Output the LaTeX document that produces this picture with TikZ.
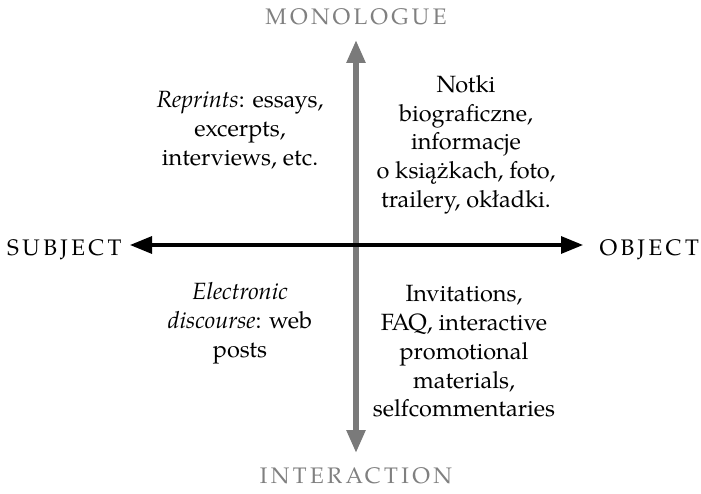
\documentclass[tikz,border=0pt]{standalone}
\usepackage{fontspec}
\setmainfont{TeX Gyre Pagella}
\usetikzlibrary{arrows.meta}
\definecolor{axgray}{HTML}{7A7A7A}
\definecolor{labgray}{HTML}{808080}
\begin{document}
\begin{tikzpicture}[x=1pt,y=1pt,
  quad/.style={align=center,font=\fontsize{23.5}{28.7}\selectfont,inner sep=0pt},
  axlab/.style={font=\fontsize{22.5}{27}\selectfont\addfontfeatures{LetterSpace=15},inner sep=0pt},
  grayaxis/.style={line width=5.5pt,draw=axgray,-{Triangle[length=23pt,width=18pt]}},
  blackaxis/.style={line width=3.2pt,draw=black,-{Triangle[length=22pt,width=17pt]}}]
\useasboundingbox (0,0) rectangle (701,493);
% axis end points
\coordinate (c) at (356,248);
\coordinate (top) at (356,453);
\coordinate (bot) at (356,40);
\coordinate (left) at (130,248);
\coordinate (right) at (583,248);
\draw[grayaxis] (c) -- (top);
\draw[grayaxis] (c) -- (bot);
\draw[blackaxis] (c) -- (left);
\draw[blackaxis] (c) -- (right);
% axis labels
\node[axlab,text=labgray,anchor=base] (mono) at (356,468) {MONOLOGUE};
\node[axlab,text=labgray,anchor=base] (inter) at (356,10) {INTERACTION};
\node[axlab,anchor=base west] (subj) at (7,237) {SUBJECT};
\node[axlab,anchor=base east] (obj) at (699,237) {OBJECT};
% quadrant texts
\node[quad] (tl) at (240,363) {\textit{Reprints}: essays,\\excerpts,\\interviews, etc.};
\node[quad] (tr) at (466,348.5) {Notki\\biograficzne,\\informacje\\o książkach, foto,\\trailery, okładki.};
\node[quad] (bl) at (240,170) {\textit{Electronic}\\\textit{discourse}: web\\posts};
\node[quad] (br) at (464,141.5) {Invitations,\\FAQ, interactive\\promotional\\materials,\\selfcommentaries};
\end{tikzpicture}
\end{document}
